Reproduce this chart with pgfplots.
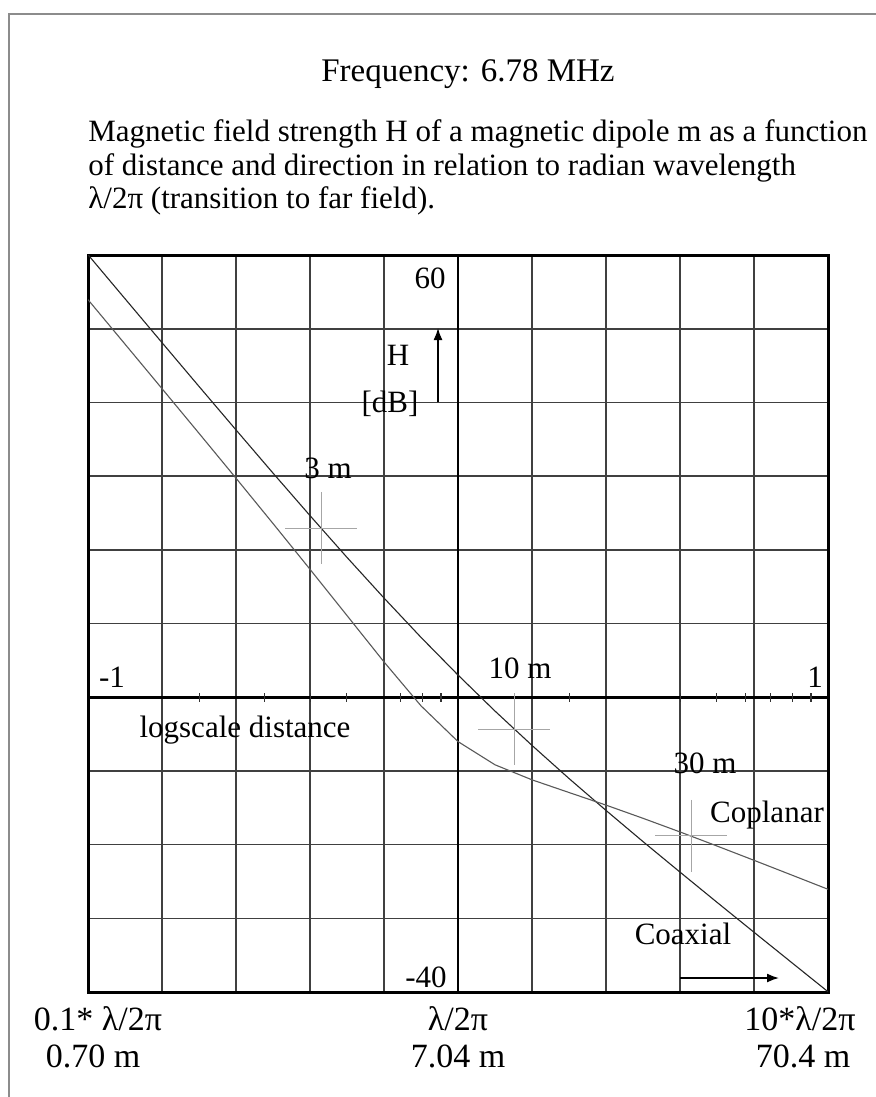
\documentclass[border=0pt]{standalone}
\usepackage{fontspec}
\setmainfont{Liberation Serif}
\usepackage{pgfplots}
\pgfplotsset{compat=1.18}
\usetikzlibrary{arrows.meta}
\newcommand\lbfont{\fontsize{15.5pt}{18pt}\selectfont}
\newcommand\ttlfont{\fontsize{16.5pt}{19pt}\selectfont}
\newcommand\btfont{\fontsize{17pt}{20pt}\selectfont}
\begin{document}
\begin{tikzpicture}[x=0.5pt,y=-0.5pt]
\useasboundingbox (0,0) rectangle (876,1097);
\fill[white] (0,0) rectangle (876,1097);
\draw[black!45, line width=1.1pt] (9,1097) -- (9,14) -- (876,14);

\begin{axis}[at={(44pt,-496pt)}, anchor=south west, scale only axis,
  width=370pt, height=368.5pt,
  xmin=-1, xmax=1, ymin=-40, ymax=60,
  xtick={-0.8,-0.6,-0.4,-0.2,0.2,0.4,0.6,0.8},
  ytick={-30,-20,-10,10,20,30,40,50},
  xticklabels={}, yticklabels={},
  major tick length=0pt,
  grid=major, major grid style={black!75, line width=0.8pt},
  extra x ticks={0}, extra y ticks={0},
  extra x tick labels={}, extra y tick labels={},
  extra tick style={major grid style={black, line width=1.3pt}},
  axis line style={line width=1.5pt},
  clip=true]
\addplot[black!85, line width=0.55pt] coordinates {
(-1,60.04) (-0.9,54.07) (-0.8,48.11) (-0.7,42.17) (-0.6,36.27) (-0.5,30.41)
(-0.4,24.64) (-0.3,18.97) (-0.2,13.46) (-0.1,8.12) (0,3.01) (0.1,-1.88)
(0.2,-6.54) (0.3,-11.03) (0.4,-15.36) (0.5,-19.59) (0.6,-23.73) (0.7,-27.83)
(0.8,-31.89) (0.9,-35.93) (1,-39.96)};
\addplot[black!65, line width=0.55pt] coordinates {
(-1,53.94) (-0.9,47.91) (-0.8,41.87) (-0.7,35.81) (-0.6,29.72) (-0.5,23.57)
(-0.4,17.36) (-0.3,11.08) (-0.2,4.79) (-0.1,-1.17) (0,-6.02) (0.1,-9.17)
(0.2,-11.21) (0.3,-12.93) (0.4,-14.64) (0.5,-16.43) (0.6,-18.28) (0.7,-20.19)
(0.8,-22.13) (0.9,-24.09) (1,-26.06)};
\addplot[only marks, mark=+, mark size=18pt, mark options={black!35, line width=0.5pt}]
  coordinates {(-0.370,22.93) (0.152,-4.33) (0.630,-18.8)};
\end{axis}

\begin{axis}[at={(44pt,-496pt)}, anchor=south west, scale only axis,
  width=370pt, height=368.5pt,
  xmin=-1, xmax=1, ymin=-40, ymax=60,
  axis x line=middle, axis y line=none,
  x axis line style={draw=none},
  xtick={-0.699,-0.523,-0.398,-0.301,-0.155,-0.097,-0.046,0.301,0.602,0.699,0.778,0.845,0.903,0.954},
  xticklabels={}, ytick=\empty,
  major tick length=4.5pt, tick align=center,
  tick style={black!80, line width=0.6pt}]
\end{axis}

\node[anchor=base, font=\ttlfont] at (468,82) {Frequency: 6.78 MHz};
\node[anchor=base west, font=\lbfont, inner sep=0pt] at (88,141) {Magnetic field strength H of a magnetic dipole m as a function};
\node[anchor=base west, font=\lbfont, inner sep=0pt] at (88,175) {of distance and direction in relation to radian wavelength};
\node[anchor=base west, font=\lbfont, inner sep=0pt] at (88,208) {λ/2π (transition to far field).};

\node[font=\lbfont] at (430,278) {60};
\node[font=\lbfont] at (426,977) {-40};
\node[font=\lbfont] at (112,677) {-1};
\node[font=\lbfont] at (815,677) {1};
\node[font=\lbfont] at (398,355) {H};
\node[font=\lbfont] at (390,404) {[dB]};
\draw[black, line width=0.8pt, -{Latex[length=6pt,width=4.5pt]}] (438,402) -- (438,328);
\node[font=\lbfont] at (328,468) {3 m};
\node[font=\lbfont] at (520,668) {10 m};
\node[font=\lbfont] at (705,763) {30 m};
\node[font=\lbfont] at (767,815) {Coplanar};
\node[font=\lbfont] at (683,934) {Coaxial};
\draw[black, line width=0.8pt, -{Latex[length=6pt,width=4.5pt]}] (680,978) -- (779,978);
\node[font=\lbfont] at (245,730) {logscale distance};

\node[anchor=base, font=\btfont] at (98,1030) {0.1* λ/2π};
\node[anchor=base, font=\btfont] at (93,1067) {0.70 m};
\node[anchor=base, font=\btfont] at (458,1030) {λ/2π};
\node[anchor=base, font=\btfont] at (458,1067) {7.04 m};
\node[anchor=base, font=\btfont] at (800,1030) {10*λ/2π};
\node[anchor=base, font=\btfont] at (803,1067) {70.4 m};
\end{tikzpicture}
\end{document}
